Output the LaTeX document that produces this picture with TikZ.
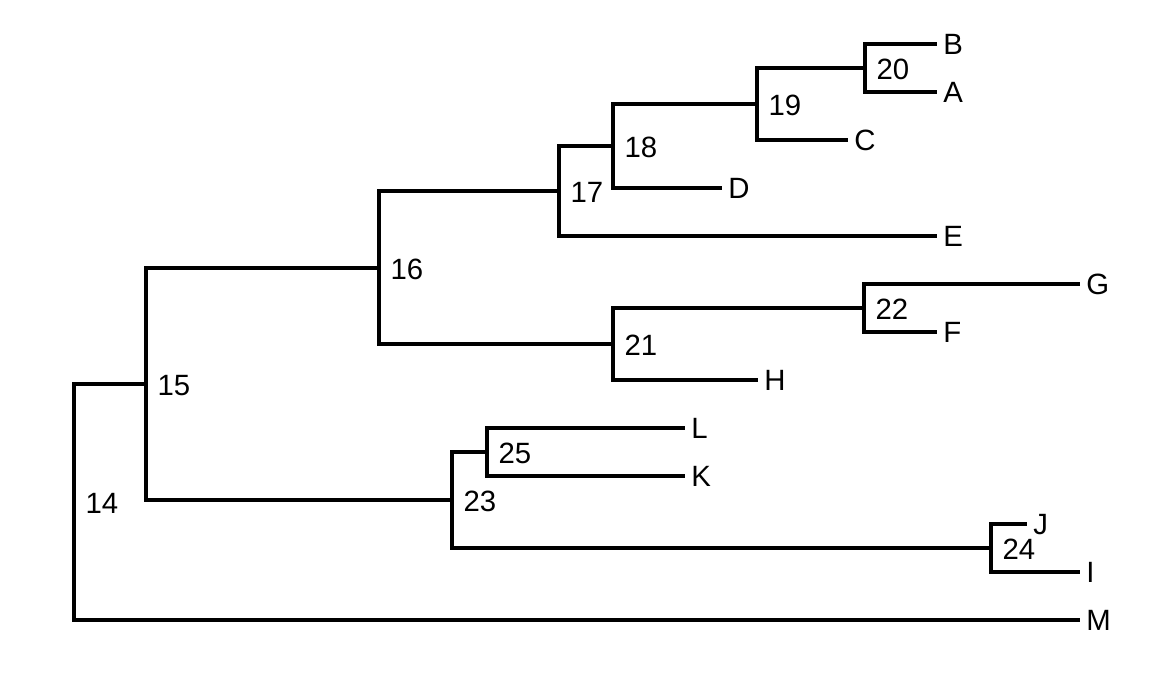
\documentclass[tikz,border=0pt]{standalone}
\usepackage{fontspec}
\setmainfont{Liberation Sans}
\usepackage{tikz}

\tikzset{
  branch/.style={line width=2.5pt},
  tiplab/.style={anchor=west, inner sep=0pt, text depth=0pt, xshift=4.5pt, font=\fontsize{22}{24}\selectfont},
  nodelab/.style={anchor=west, inner sep=0pt, text depth=0pt, xshift=8.5pt, yshift=-1pt, font=\fontsize{22}{24}\selectfont}
}

\begin{document}
\begin{tikzpicture}[x=0.75pt,y=0.75pt,yscale=-1,xscale=1]
\useasboundingbox (0,0) rectangle (1152,672);

% internal nodes
\coordinate (n14) at (74,502);
\coordinate (n15) at (146,384);
\coordinate (n16) at (379,268);
\coordinate (n17) at (559,191);
\coordinate (n18) at (613,146);
\coordinate (n19) at (757,104);
\coordinate (n20) at (865,68);
\coordinate (n21) at (613,344);
\coordinate (n22) at (864,308);
\coordinate (n23) at (452,500);
\coordinate (n24) at (991,548);
\coordinate (n25) at (487,452);

% tips
\coordinate (B) at (937,44);
\coordinate (A) at (937,92);
\coordinate (C) at (848,140);
\coordinate (D) at (722,188);
\coordinate (E) at (937,236);
\coordinate (G) at (1080,284);
\coordinate (F) at (937,332);
\coordinate (H) at (758,380);
\coordinate (L) at (685,428);
\coordinate (K) at (685,476);
\coordinate (J) at (1027,524);
\coordinate (I) at (1080,572);
\coordinate (M) at (1080,620);

%Straight Lines
\draw [branch] (n14) |- (n15);
\draw [branch] (n14) |- (M);
%Straight Lines
\draw [branch] (n15) |- (n16);
\draw [branch] (n15) |- (n23);
%Straight Lines
\draw [branch] (n16) |- (n17);
\draw [branch] (n16) |- (n21);
%Straight Lines
\draw [branch] (n17) |- (n18);
\draw [branch] (n17) |- (E);
%Straight Lines
\draw [branch] (n18) |- (n19);
\draw [branch] (n18) |- (D);
%Straight Lines
\draw [branch] (n19) |- (n20);
\draw [branch] (n19) |- (C);
%Straight Lines
\draw [branch] (n20) |- (B);
\draw [branch] (n20) |- (A);
%Straight Lines
\draw [branch] (n21) |- (n22);
\draw [branch] (n21) |- (H);
%Straight Lines
\draw [branch] (n22) |- (G);
\draw [branch] (n22) |- (F);
%Straight Lines
\draw [branch] (n23) |- (n25);
\draw [branch] (n23) |- (n24);
%Straight Lines
\draw [branch] (n25) |- (L);
\draw [branch] (n25) |- (K);
%Straight Lines
\draw [branch] (n24) |- (J);
\draw [branch] (n24) |- (I);

% Text Node
\node (labB) [tiplab] at (B) {B};
\node (labA) [tiplab] at (A) {A};
\node (labC) [tiplab] at (C) {C};
\node (labD) [tiplab] at (D) {D};
\node (labE) [tiplab] at (E) {E};
\node (labG) [tiplab] at (G) {G};
\node (labF) [tiplab] at (F) {F};
\node (labH) [tiplab] at (H) {H};
\node (labL) [tiplab] at (L) {L};
\node (labK) [tiplab] at (K) {K};
\node (labJ) [tiplab] at (J) {J};
\node (labI) [tiplab] at (I) {I};
\node (labM) [tiplab] at (M) {M};

% Text Node
\node (lab14) [nodelab] at (n14) {14};
\node (lab15) [nodelab] at (n15) {15};
\node (lab16) [nodelab] at (n16) {16};
\node (lab17) [nodelab] at (n17) {17};
\node (lab18) [nodelab] at (n18) {18};
\node (lab19) [nodelab] at (n19) {19};
\node (lab20) [nodelab] at (n20) {20};
\node (lab21) [nodelab] at (n21) {21};
\node (lab22) [nodelab] at (n22) {22};
\node (lab23) [nodelab] at (n23) {23};
\node (lab24) [nodelab] at (n24) {24};
\node (lab25) [nodelab] at (n25) {25};

\end{tikzpicture}
\end{document}
